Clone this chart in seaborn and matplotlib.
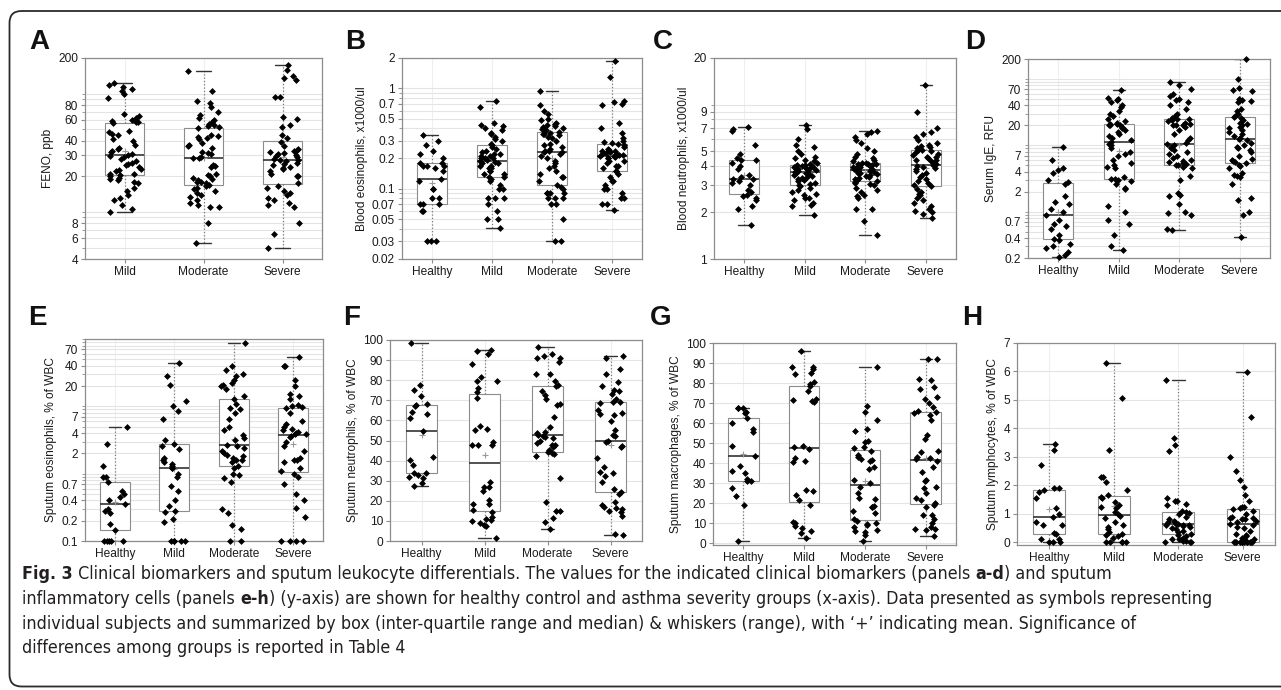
import numpy as np
import pandas as pd
import matplotlib
matplotlib.use("Agg")
import matplotlib.pyplot as plt
import seaborn as sns
from matplotlib import font_manager
from matplotlib.patches import FancyBboxPatch
from matplotlib.transforms import IdentityTransform
from matplotlib.ticker import FixedLocator, LogLocator, NullFormatter

# ---------------- data ----------------
GROUPS4 = ["Healthy", "Mild", "Moderate", "Severe"]
GROUPS3 = ["Mild", "Moderate", "Severe"]

# A: FENO, ppb
A_mild = [124, 118, 113, 110, 105, 100, 92, 67, 65, 62, 60, 59, 58, 57.5, 56, 48, 47, 46, 45, 41, 40, 37, 35, 34,
          33, 32, 31, 30.5, 29.5, 29, 28, 27, 26, 25.5, 25, 24, 23, 22.5, 22, 21, 21, 20.5, 20, 19.5, 19, 18.5, 18,
          17.5, 16, 15, 14, 13, 12.5, 11.5, 10.5, 10]
A_moderate = [154, 105, 86, 84, 77, 70, 66, 62, 60, 57, 55, 54, 53, 52.5, 51.5, 45, 44, 43, 42, 41, 38, 37, 36, 35,
              32, 31.5, 31, 29, 28.5, 28.3, 25, 24.5, 24, 21, 20.5, 20, 19.5, 19, 18.5, 18, 18, 17.5, 17, 16.5, 16,
              15.5, 15, 14.5, 14, 13.5, 12.5, 12, 11.5, 11, 11, 8, 5.5]
A_severe = [173, 158, 140, 135, 130, 94, 93, 64, 61, 54, 52, 45, 42, 39, 36, 34, 33.5, 33, 32, 31.5, 31, 30, 29.5,
            29, 28, 27.7, 27.3, 27, 26, 25.5, 25, 24, 23.5, 23, 22, 21, 20, 20, 17.5, 16.5, 16, 15, 14.5, 14, 13,
            12.5, 12, 11.5, 11, 8, 6.5, 5]

# B: Blood eosinophils, x1000/ul
B_healthy = [0.34, 0.30, 0.27, 0.24, 0.22, 0.20, 0.18, 0.18, 0.17, 0.17, 0.17, 0.16, 0.15, 0.126, 0.12, 0.10, 0.10,
             0.08, 0.08, 0.07, 0.07, 0.07, 0.06, 0.06, 0.03, 0.03, 0.03]
B_mild = [0.041, 0.05, 0.05, 0.06, 0.07, 0.08, 0.08, 0.08, 0.10, 0.10, 0.11, 0.12, 0.125, 0.13, 0.13, 0.14, 0.14,
          0.15, 0.15, 0.16, 0.16, 0.17, 0.17, 0.18, 0.18, 0.185, 0.19, 0.195, 0.20, 0.20, 0.20, 0.21, 0.21, 0.22,
          0.22, 0.23, 0.24, 0.25, 0.26, 0.27, 0.28, 0.30, 0.31, 0.33, 0.35, 0.36, 0.38, 0.40, 0.42, 0.43, 0.45,
          0.65, 0.74]
B_moderate = [0.03, 0.03, 0.05, 0.07, 0.07, 0.08, 0.08, 0.08, 0.09, 0.09, 0.09, 0.09, 0.10, 0.105, 0.11, 0.12, 0.13,
              0.13, 0.14, 0.15, 0.16, 0.17, 0.18, 0.19, 0.20, 0.21, 0.22, 0.23, 0.233, 0.235, 0.24, 0.25, 0.26,
              0.27, 0.28, 0.30, 0.32, 0.33, 0.34, 0.35, 0.35, 0.36, 0.37, 0.38, 0.39, 0.40, 0.41, 0.42, 0.43, 0.44,
              0.45, 0.48, 0.50, 0.55, 0.60, 0.68, 0.93]
B_severe = [0.061, 0.07, 0.07, 0.08, 0.08, 0.09, 0.10, 0.10, 0.11, 0.12, 0.12, 0.13, 0.14, 0.15, 0.15, 0.16, 0.17,
            0.17, 0.18, 0.19, 0.19, 0.20, 0.20, 0.205, 0.21, 0.21, 0.214, 0.215, 0.215, 0.22, 0.22, 0.225, 0.23,
            0.235, 0.24, 0.245, 0.25, 0.26, 0.27, 0.28, 0.285, 0.29, 0.30, 0.32, 0.36, 0.40, 0.45, 0.68, 0.70,
            0.73, 0.75, 1.3, 1.85]

# C: Blood neutrophils, x1000/ul
C_healthy = [1.66, 2.1, 2.2, 2.4, 2.5, 2.55, 2.6, 2.7, 2.8, 3.0, 3.1, 3.2, 3.3, 3.31, 3.4, 3.5, 3.8, 4.0, 4.2, 4.4,
             4.4, 4.5, 4.8, 5.5, 6.7, 6.9, 7.2]
C_mild = [1.94, 2.2, 2.25, 2.3, 2.4, 2.5, 2.5, 2.6, 2.65, 2.7, 2.8, 2.9, 2.95, 3.0, 3.05, 3.1, 3.2, 3.25, 3.3, 3.35,
          3.4, 3.45, 3.5, 3.55, 3.6, 3.62, 3.66, 3.7, 3.72, 3.75, 3.8, 3.82, 3.85, 3.9, 3.92, 3.95, 4.0, 4.02, 4.05,
          4.08, 4.15, 4.2, 4.3, 4.4, 4.5, 4.6, 4.8, 5.0, 5.3, 5.5, 6.0, 6.9, 7.33]
C_moderate = [1.42, 1.75, 2.1, 2.1, 2.5, 2.55, 2.6, 2.7, 2.8, 2.9, 3.0, 3.05, 3.1, 3.15, 3.21, 3.25, 3.3, 3.35, 3.4,
              3.45, 3.5, 3.55, 3.6, 3.62, 3.65, 3.7, 3.72, 3.75, 3.77, 3.8, 3.82, 3.85, 3.88, 3.9, 3.92, 3.95, 4.0,
              4.02, 4.05, 4.1, 4.12, 4.15, 4.18, 4.2, 4.3, 4.4, 4.5, 4.6, 4.8, 5.0, 5.2, 5.6, 5.9, 6.2, 6.4, 6.6,
              6.7]
C_severe = [1.83, 1.95, 2.0, 2.05, 2.1, 2.2, 2.3, 2.4, 2.5, 2.6, 2.65, 2.7, 2.85, 2.95, 3.0, 3.1, 3.2, 3.3, 3.4,
            3.5, 3.6, 3.7, 3.8, 3.9, 3.95, 4.0, 4.06, 4.1, 4.2, 4.3, 4.35, 4.4, 4.5, 4.55, 4.6, 4.7, 4.8, 4.9, 5.0,
            5.05, 5.1, 5.2, 5.3, 5.4, 5.5, 5.6, 5.9, 6.2, 6.4, 6.6, 7.0, 9.0, 13.4]

# D: Serum IgE, RFU
D_healthy = [0.207, 0.22, 0.25, 0.28, 0.30, 0.33, 0.38, 0.39, 0.45, 0.55, 0.6, 0.65, 0.75, 0.89, 1.0, 1.1, 1.3, 1.4,
             1.7, 2.6, 2.75, 3.0, 3.8, 4.2, 4.5, 6.0, 9.5]
D_mild = [0.26, 0.3, 0.45, 0.65, 0.75, 1.0, 1.2, 2.2, 2.3, 2.6, 2.9, 3.0, 3.1, 3.14, 3.3, 4.5, 4.7, 5.0, 5.5, 6.0,
          7.0, 7.5, 8.0, 9.0, 10, 10.5, 11.2, 12, 13, 14, 15, 16, 17, 18, 19, 20, 20, 20.5, 21, 21.2, 22, 23, 25, 28,
          30, 33, 38, 40, 45, 48, 50, 52, 68]
D_moderate = [0.53, 0.55, 0.9, 0.95, 1.0, 1.3, 1.7, 1.8, 1.9, 3.0, 3.5, 4.5, 4.7, 5.0, 5.1, 5.2, 5.4, 5.6, 5.8, 6.0,
              6.5, 7.0, 7.5, 8.0, 8.5, 9.0, 9.5, 10, 10.5, 11, 12, 13, 15, 17, 19, 20, 20, 20, 21, 22, 23, 24, 24.9,
              25, 26, 28, 30, 35, 40, 45, 48, 50, 55, 60, 70, 80, 91]
D_severe = [0.42, 0.9, 1.0, 1.5, 1.6, 2.6, 3.3, 3.5, 3.6, 3.8, 4.5, 4.8, 5.0, 5.4, 5.6, 5.8, 6.0, 6.2, 7.0, 8.0, 8.5,
            9.0, 9.5, 10, 11, 12, 12.4, 13, 14, 15, 16, 17, 18, 19, 20, 21, 22, 24, 26, 27, 28, 30, 33, 35, 45, 47,
            48, 50, 65, 68, 72, 100, 200]

# E: Sputum eosinophils, % of WBC
E_healthy = [0.1, 0.1, 0.1, 0.1, 0.1, 0.147, 0.18, 0.26, 0.28, 0.3, 0.357, 0.4, 0.45, 0.5, 0.55, 0.74, 0.88, 0.9,
             1.3, 2.8, 4.9]
E_mild = [0.1, 0.1, 0.1, 0.1, 0.1, 0.19, 0.21, 0.27, 0.277, 0.33, 0.4, 0.55, 0.65, 0.9, 1.0, 1.2, 1.23, 1.3, 1.4,
          1.5, 1.6, 1.7, 2.3, 2.6, 2.8, 3.2, 6.5, 8.5, 10, 12, 21, 28, 44.5]
E_moderate = [0.1, 0.1, 0.15, 0.17, 0.26, 0.3, 0.75, 0.85, 0.95, 1.0, 1.2, 1.31, 1.5, 1.6, 1.6, 1.7, 1.8, 1.9, 2.0,
              2.2, 2.4, 2.6, 2.7, 3.2, 3.4, 3.8, 4.5, 5.0, 6.5, 8.0, 9.0, 9.5, 11, 12.9, 14, 18, 20, 21, 22, 25, 28,
              30, 35, 40, 86]
E_severe = [0.1, 0.1, 0.1, 0.1, 0.23, 0.31, 0.4, 0.5, 0.7, 0.9, 1.0, 1.08, 1.2, 1.5, 1.6, 1.6, 1.7, 2.2, 2.6, 3.0,
            3.5, 3.6, 3.83, 3.9, 4.0, 4.2, 4.5, 4.6, 5.0, 5.5, 6.0, 8.0, 9.5, 9.9, 10, 10.5, 13, 14, 15, 20, 25, 40,
            40, 53.5]

# F: Sputum neutrophils, % of WBC
F_healthy = [27.2, 29, 31.5, 32, 33, 33.7, 34, 38, 40.5, 42, 54.8, 61, 63, 64, 67, 67.8, 68, 72, 75, 77.5, 98.3]
F_mild = [1.7, 7.5, 8, 9, 10, 10.5, 11, 12, 14.5, 15.5, 18.5, 18.5, 20.5, 25, 27, 27, 29.5, 48, 48, 48, 49.5, 55,
          55.5, 57, 71, 74, 76, 79.5, 79.5, 81.5, 88, 93, 94.5, 95]
F_moderate = [6, 9.5, 11.5, 15, 15, 19.5, 31.5, 42.5, 43.5, 44, 44.3, 45.5, 47, 48, 48, 49, 50, 51, 51.5, 52, 52.8,
              53.5, 54, 56.5, 61.5, 67.5, 68, 70.5, 72.5, 74.5, 77, 77.5, 79.5, 83, 83, 89, 91, 91, 92, 93, 96.7]
F_severe = [3, 3.5, 12.5, 14.5, 15, 16, 16.5, 17, 18, 19.5, 23.5, 24.5, 26, 29.5, 32.5, 34, 34.5, 37, 41.5, 47,
            47.5, 49.5, 49.7, 52, 52.5, 55, 59.5, 62.5, 63, 63.5, 65, 68.5, 69, 69.2, 70.5, 73, 74.5, 75, 77, 79, 83,
            85.5, 91, 92]

# G: Sputum macrophages, % of WBC
G_healthy = [1.0, 19, 23.5, 27.5, 31, 31.2, 32, 35, 36, 38.5, 43.4, 48.5, 55.5, 57, 60, 62.4, 65, 65.5, 67.5, 67.8,
             67.8]
G_mild = [2.7, 5, 6, 7.5, 8.5, 10, 10.5, 19, 21.5, 24, 26, 26.5, 40.5, 41, 42.5, 47, 48, 48.5, 70.5, 71, 71.5, 72,
          76, 78.5, 79.5, 80.5, 84.5, 85, 87, 88, 88, 96.2]
G_moderate = [1, 4, 5.5, 6, 6.5, 8, 9, 9.5, 10, 11, 12, 15, 16, 18, 18, 18.5, 22, 22.5, 25, 28, 30, 31.5, 37, 38,
              41, 41.5, 42, 43, 44, 46, 47.5, 48, 50.5, 51, 56, 57, 61.5, 65.5, 68.5, 88]
G_severe = [3.8, 6.5, 7, 7, 8, 10, 12, 14, 14, 18, 19, 20, 21.5, 22.5, 25, 27.5, 28, 31, 31.5, 35.5, 38, 41, 42,
            42.5, 43, 45.5, 46, 52, 54, 61.5, 64, 65, 65.5, 66, 68, 70, 72, 73, 77, 78, 81.5, 82, 92, 92.2]

# H: Sputum lymphocytes, % of WBC
H_healthy = [0, 0, 0.02, 0.1, 0.12, 0.3, 0.32, 0.6, 0.62, 0.7, 0.88, 1.0, 1.2, 1.55, 1.75, 1.85, 1.9, 1.92, 2.7,
             3.25, 3.45]
H_mild = [0, 0, 0, 0, 0, 0.15, 0.2, 0.25, 0.3, 0.35, 0.45, 0.55, 0.6, 0.7, 0.85, 0.92, 1.0, 1.05, 1.2, 1.25, 1.3,
          1.4, 1.55, 1.6, 1.65, 1.85, 2.1, 2.3, 2.3, 3.25, 5.05, 6.28]
H_moderate = [0, 0, 0.02, 0.05, 0.05, 0.1, 0.1, 0.15, 0.2, 0.25, 0.3, 0.35, 0.4, 0.45, 0.5, 0.55, 0.58, 0.6, 0.6,
              0.62, 0.65, 0.65, 0.7, 0.7, 0.75, 0.8, 0.9, 1.0, 1.02, 1.05, 1.1, 1.3, 1.35, 1.45, 1.45, 1.55, 3.2,
              3.4, 3.65, 5.71]
H_severe = [0, 0, 0, 0, 0, 0, 0, 0, 0, 0, 0, 0, 0.1, 0.1, 0.15, 0.2, 0.25, 0.3, 0.4, 0.5, 0.55, 0.6, 0.65, 0.7,
            0.75, 0.8, 0.8, 0.85, 0.85, 0.9, 1.0, 1.1, 1.15, 1.2, 1.22, 1.25, 1.45, 1.65, 1.95, 2.2, 2.5, 3.0, 4.4,
            5.97]

# tick labels
A_ticks = [4, 6, 8, 20, 30, 40, 60, 80, 200]
B_ticks = [0.02, 0.03, 0.05, 0.07, 0.1, 0.2, 0.3, 0.5, 0.7, 1, 2]
C_ticks = [1, 2, 3, 4, 5, 7, 9, 20]
D_ticks = [0.2, 0.4, 0.7, 2, 4, 7, 20, 40, 70, 200]
E_ticks = [0.1, 0.2, 0.4, 0.7, 2, 4, 7, 20, 40, 70]
PCT_ticks = [0, 10, 20, 30, 40, 50, 60, 70, 80, 90, 100]
H_ticks = [0, 1, 2, 3, 4, 5, 6, 7]

CAPTION_LINES = [
    [("Fig. 3", True),
     (" Clinical biomarkers and sputum leukocyte differentials. The values for the indicated clinical biomarkers (panels ", False),
     ("a-d", True), (") and sputum", False)],
    [("inflammatory cells (panels ", False), ("e-h", True),
     (") (y-axis) are shown for healthy control and asthma severity groups (x-axis). Data presented as symbols representing", False)],
    [("individual subjects and summarized by box (inter-quartile range and median) & whiskers (range), with \u2018+\u2019 indicating mean. Significance of", False)],
    [("differences among groups is reported in Table 4", False)],
]

# ---------------- styling ----------------
W, H = 1281, 690
sns.set_theme(style="white")
names = {f.name for f in font_manager.fontManager.ttflist}
BASE = "Liberation Sans" if "Liberation Sans" in names else "DejaVu Sans"
plt.rcParams["font.family"] = [BASE, "DejaVu Sans"]
if "Liberation Sans Narrow" in names:
    CAP_FAMILY, CAP_STRETCH = ["Liberation Sans Narrow", "DejaVu Sans"], "normal"
else:
    CAP_FAMILY, CAP_STRETCH = ["DejaVu Sans"], "condensed"

TICK_FS = 8.6
SPINE = "#8c8c8c"
TXT = "#1a1a1a"

fig = plt.figure(figsize=(W / 100, H / 100), dpi=100)
fig.patch.set_facecolor("white")

panels = [
    dict(letter="A", box=(85, 322, 58, 259), lxy=(29, 42), groups=GROUPS3,
         values=[A_mild, A_moderate, A_severe], ylabel="FENO, ppb", log=True, ylim=(4, 200), ticks=A_ticks),
    dict(letter="B", box=(402, 642, 58, 259), lxy=(345, 42), groups=GROUPS4,
         values=[B_healthy, B_mild, B_moderate, B_severe], ylabel="Blood eosinophils, x1000/ul", log=True,
         ylim=(0.02, 2), ticks=B_ticks),
    dict(letter="C", box=(714, 956, 58, 259), lxy=(653, 42), groups=GROUPS4,
         values=[C_healthy, C_mild, C_moderate, C_severe], ylabel="Blood neutrophils, x1000/ul", log=True,
         ylim=(1, 20), ticks=C_ticks),
    dict(letter="D", box=(1028, 1270, 59, 258), lxy=(965, 42), groups=GROUPS4,
         values=[D_healthy, D_mild, D_moderate, D_severe], ylabel="Serum IgE, RFU", log=True,
         ylim=(0.2, 200), ticks=D_ticks),
    dict(letter="E", box=(85, 323, 339, 541), lxy=(28, 318), groups=GROUPS4,
         values=[E_healthy, E_mild, E_moderate, E_severe], ylabel="Sputum eosinophils, % of WBC", log=True,
         ylim=(0.1, 100), ticks=E_ticks),
    dict(letter="F", box=(390, 642, 340, 541), lxy=(343, 318), groups=GROUPS4,
         values=[F_healthy, F_mild, F_moderate, F_severe], ylabel="Sputum neutrophils, % of WBC", log=False,
         ylim=(0, 100), ticks=PCT_ticks),
    dict(letter="G", box=(713, 956, 343, 545), lxy=(650, 318), groups=GROUPS4,
         values=[G_healthy, G_mild, G_moderate, G_severe], ylabel="Sputum macrophages, % of WBC", log=False,
         ylim=(-0.8, 100), ticks=PCT_ticks),
    dict(letter="H", box=(1017, 1275, 343, 545), lxy=(962, 318), groups=GROUPS4,
         values=[H_healthy, H_mild, H_moderate, H_severe], ylabel="Sputum lymphocytes, % of WBC", log=False,
         ylim=(-0.1, 7), ticks=H_ticks),
]


def draw_panel(p, seed):
    x0, x1, yt, yb = p["box"]
    ax = fig.add_axes([x0 / W, 1 - yb / H, (x1 - x0) / W, (yb - yt) / H])
    groups, vals = p["groups"], p["values"]
    df = pd.DataFrame({
        "group": np.repeat(groups, [len(v) for v in vals]),
        "value": np.concatenate([np.asarray(v, dtype=float) for v in vals]),
    })
    log = True if p["log"] else None
    sns.boxplot(data=df, x="group", y="value", order=groups, ax=ax, whis=(0, 100), width=0.5,
                color="white", linecolor=SPINE, linewidth=0.8, fliersize=0, log_scale=log,
                showmeans=True, capwidths=0.2,
                meanprops=dict(marker="+", markeredgecolor="#9a9a9a", markerfacecolor="#9a9a9a",
                               markersize=5, markeredgewidth=0.8),
                medianprops=dict(color="#333333", linewidth=1.2),
                whiskerprops=dict(color="#7a7a7a", linestyle=":", linewidth=0.9),
                capprops=dict(color="#333333", linewidth=1.0))
    np.random.seed(seed)
    sns.stripplot(data=df, x="group", y="value", order=groups, ax=ax, jitter=0.21, size=3.5, marker="D",
                  color="black", linewidth=0, zorder=3, log_scale=log, clip_on=False)

    ax.set_xlim(-0.5, len(groups) - 0.5)
    ax.set_ylim(*p["ylim"])
    if p["log"]:
        ax.yaxis.set_major_locator(FixedLocator(p["ticks"]))
        ax.yaxis.set_minor_locator(LogLocator(base=10, subs=np.arange(1, 10) * 1.0, numticks=60))
        ax.yaxis.set_minor_formatter(NullFormatter())
    else:
        ax.set_yticks(p["ticks"])
    ax.set_yticklabels([f"{t:g}" for t in p["ticks"]])

    ax.set_axisbelow(True)
    ax.yaxis.grid(True, which="both", color="#e4e4e4", linewidth=0.8)
    ax.xaxis.grid(True, which="major", color="#efefef", linewidth=0.8)
    ax.tick_params(axis="both", which="major", labelsize=TICK_FS, color=SPINE, labelcolor=TXT,
                   length=3, width=0.8, pad=2, direction="out", left=True, bottom=True)
    ax.tick_params(axis="y", which="minor", length=2, width=0.6, color=SPINE, left=True)
    for s in ax.spines.values():
        s.set_visible(True)
        s.set_color(SPINE)
        s.set_linewidth(0.9)
    ax.set_xlabel("")
    ax.set_ylabel(p["ylabel"], fontsize=TICK_FS, color=TXT, labelpad=3)

    lx, ly = p["lxy"]
    fig.text(lx / W, 1 - ly / H, p["letter"], fontsize=20, fontweight="bold", ha="left", va="center",
             color="#111111")


for i, p in enumerate(panels):
    draw_panel(p, 11 + i)

# rounded frame (clipped on the right as in the reference)
frame = FancyBboxPatch((9.5, 3.5), 1300, 675.5, boxstyle="round,pad=0,rounding_size=12",
                       transform=IdentityTransform(), fill=False, edgecolor="#2a2a2a", linewidth=1.3)
fig.add_artist(frame)

# caption with mixed weights
renderer = fig.canvas.get_renderer()


def text_width(s, size, bold):
    t = fig.text(0, 0, s, fontsize=size, fontweight="bold" if bold else "normal",
                 family=CAP_FAMILY, fontstretch=CAP_STRETCH)
    w = t.get_window_extent(renderer).width
    t.remove()
    return w


def advance(s, size, bold):
    return text_width("|" + s + "|", size, bold) - text_width("||", size, bold)


# fit the caption size so that the lines, in total, span what they span in the reference
ref_size = 12.0
target_total = 1106 + 1243 + 1063 + 358
measured_total = sum(advance(s, ref_size, b) for line in CAPTION_LINES for s, b in line)
cap_size = ref_size * target_total / measured_total
baselines = [579, 604, 629, 653]
for line, yb in zip(CAPTION_LINES, baselines):
    x = 22.0
    for s, b in line:
        fig.text(x / W, 1 - yb / H, s, fontsize=cap_size, fontweight="bold" if b else "normal",
                 family=CAP_FAMILY, fontstretch=CAP_STRETCH, ha="left", va="baseline", color="#231f20")
        x += advance(s, cap_size, b)

fig.savefig("out.png", dpi=100, facecolor="white")
